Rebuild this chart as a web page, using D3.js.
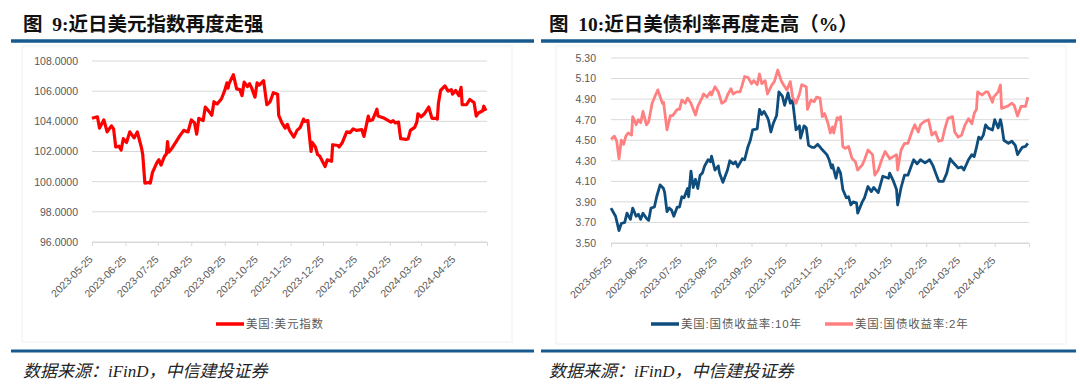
<!DOCTYPE html>
<html>
<head>
<meta charset="utf-8">
<script src="https://cdn.jsdelivr.net/npm/d3@7"></script>
<style>
  body { margin: 0; background: #ffffff; }
  svg { display: block; }
</style>
</head>
<body>
<svg id="chart" width="1080" height="384"></svg>
<script>
// ---- data ----
var xTickLabels = ["2023-05-25", "2023-06-25", "2023-07-25", "2023-08-25", "2023-09-25", "2023-10-25",
                   "2023-11-25", "2023-12-25", "2024-01-25", "2024-02-25", "2024-03-25", "2024-04-25"];
var xAxisEnd = "2024-05-25";

var dxyTicks = [96, 98, 100, 102, 104, 106, 108];
var rateTicks = [3.5, 3.7, 3.9, 4.1, 4.3, 4.5, 4.7, 4.9, 5.1, 5.3];

var dxyDates = ["2023-05-25","2023-05-30","2023-06-01","2023-06-05","2023-06-08","2023-06-12","2023-06-14","2023-06-16",
  "2023-06-19","2023-06-21","2023-06-23","2023-06-26","2023-06-29","2023-07-03","2023-07-06","2023-07-10","2023-07-11",
  "2023-07-13","2023-07-17","2023-07-18","2023-07-20","2023-07-24","2023-07-26","2023-07-28","2023-07-31","2023-08-02",
  "2023-08-03","2023-08-04","2023-08-07","2023-08-11","2023-08-14","2023-08-18","2023-08-22","2023-08-25","2023-08-28",
  "2023-08-30","2023-09-01","2023-09-05","2023-09-07","2023-09-11","2023-09-13","2023-09-15","2023-09-18","2023-09-22",
  "2023-09-25","2023-09-27","2023-09-28","2023-09-29","2023-10-03","2023-10-06","2023-10-09","2023-10-11","2023-10-13",
  "2023-10-16","2023-10-18","2023-10-20","2023-10-23","2023-10-25","2023-10-27","2023-10-31","2023-11-03","2023-11-06",
  "2023-11-09","2023-11-13","2023-11-14","2023-11-17","2023-11-20","2023-11-22","2023-11-24","2023-11-28","2023-12-01",
  "2023-12-04","2023-12-07","2023-12-08","2023-12-11","2023-12-13","2023-12-14","2023-12-15","2023-12-18","2023-12-20",
  "2023-12-22","2023-12-27","2023-12-29","2024-01-02","2024-01-03","2024-01-08","2024-01-09","2024-01-12","2024-01-16",
  "2024-01-19","2024-01-22","2024-01-25","2024-01-30","2024-02-01","2024-02-05","2024-02-06","2024-02-09","2024-02-13",
  "2024-02-14","2024-02-16","2024-02-20","2024-02-26","2024-02-28","2024-03-01","2024-03-04","2024-03-06","2024-03-11",
  "2024-03-13","2024-03-15","2024-03-19","2024-03-21","2024-03-22","2024-03-25","2024-03-28","2024-04-01","2024-04-04",
  "2024-04-08","2024-04-09","2024-04-10","2024-04-12","2024-04-16","2024-04-19","2024-04-22","2024-04-23","2024-04-26",
  "2024-04-29","2024-05-01","2024-05-02","2024-05-06","2024-05-09","2024-05-13","2024-05-15","2024-05-17","2024-05-21",
  "2024-05-22","2024-05-24"];
var dxyValues = [104.2,104.3,103.55,104.1,103.3,103.7,103.5,102.3,
  102.35,102.1,102.85,102.6,103.3,102.9,103.3,102.2,101.8,
  99.9,99.95,99.9,100.6,101.25,101.45,101.1,101.65,101.85,
  102.65,101.95,102.2,102.65,103.0,103.4,103.3,104.1,103.9,
  103.15,104.2,104.05,104.95,104.6,104.4,105.3,105.15,105.5,
  106.05,106.55,106.2,106.5,107.1,106.15,106.1,105.7,106.6,
  106.3,106.5,106.2,105.6,106.55,106.4,106.7,105.1,105.3,
  105.9,105.8,104.4,103.9,103.55,103.8,103.4,102.95,103.4,
  103.6,104.15,104.0,104.05,102.65,102.0,102.6,102.3,101.8,
  101.7,101.0,101.45,101.35,102.45,102.4,102.3,102.6,103.3,
  103.25,103.5,103.4,103.45,103.0,104.35,104.05,104.1,104.8,
  104.35,104.3,104.2,103.95,104.05,103.9,103.95,102.85,102.8,
  102.85,103.4,103.6,103.95,104.5,104.3,104.5,104.95,104.2,
  104.2,104.15,105.2,106.05,106.35,106.0,106.1,105.8,106.05,
  105.7,106.25,105.1,105.1,105.45,105.25,104.35,104.55,104.7,
  105.0,104.7];

var us10Dates = ["2023-05-25","2023-05-29","2023-06-01","2023-06-03","2023-06-06","2023-06-08","2023-06-11","2023-06-13",
  "2023-06-16","2023-06-18","2023-06-20","2023-06-22","2023-06-25","2023-06-27","2023-06-29","2023-07-02","2023-07-04",
  "2023-07-07","2023-07-10","2023-07-11","2023-07-13","2023-07-15","2023-07-17","2023-07-19","2023-07-22","2023-07-24",
  "2023-07-26","2023-07-28","2023-07-31","2023-08-01","2023-08-03","2023-08-05","2023-08-07","2023-08-09","2023-08-11",
  "2023-08-13","2023-08-15","2023-08-18","2023-08-20","2023-08-21","2023-08-24","2023-08-27","2023-08-28","2023-08-31",
  "2023-09-04","2023-09-06","2023-09-09","2023-09-11","2023-09-13","2023-09-17","2023-09-19","2023-09-22","2023-09-24",
  "2023-09-26","2023-09-30","2023-10-02","2023-10-04","2023-10-06","2023-10-09","2023-10-10","2023-10-12","2023-10-14",
  "2023-10-17","2023-10-19","2023-10-22","2023-10-24","2023-10-27","2023-10-29","2023-10-31","2023-11-03","2023-11-06",
  "2023-11-07","2023-11-10","2023-11-12","2023-11-14","2023-11-17","2023-11-19","2023-11-22","2023-11-25","2023-11-30",
  "2023-12-02","2023-12-04","2023-12-05","2023-12-08","2023-12-10","2023-12-12","2023-12-14","2023-12-17","2023-12-19",
  "2023-12-21","2023-12-23","2023-12-26","2023-12-27","2023-12-31","2024-01-02","2024-01-05","2024-01-08","2024-01-10",
  "2024-01-14","2024-01-18","2024-01-23","2024-01-24","2024-01-27","2024-01-30","2024-01-31","2024-02-03","2024-02-06",
  "2024-02-09","2024-02-13","2024-02-14","2024-02-17","2024-02-20","2024-02-24","2024-02-28","2024-03-02","2024-03-05",
  "2024-03-07","2024-03-11","2024-03-14","2024-03-17","2024-03-19","2024-03-24","2024-03-27","2024-03-29","2024-04-02",
  "2024-04-05","2024-04-07","2024-04-09","2024-04-11","2024-04-13","2024-04-15","2024-04-17","2024-04-19","2024-04-23",
  "2024-04-25","2024-04-28","2024-04-30","2024-05-01","2024-05-03","2024-05-07","2024-05-10","2024-05-13","2024-05-15",
  "2024-05-19","2024-05-22","2024-05-24"];
var us10Values = [3.84,3.76,3.62,3.69,3.70,3.79,3.73,3.84,
  3.76,3.78,3.73,3.79,3.74,3.72,3.84,3.85,3.95,
  4.065,4.03,3.99,3.805,3.84,3.82,3.76,3.85,3.85,
  3.95,3.94,4.03,3.95,4.20,4.04,4.12,4.03,4.16,
  4.18,4.25,4.31,4.29,4.345,4.21,4.25,4.18,4.09,
  4.21,4.30,4.27,4.29,4.24,4.32,4.31,4.44,4.50,
  4.60,4.61,4.80,4.75,4.78,4.72,4.69,4.58,4.66,
  4.74,4.97,4.93,4.84,4.96,4.86,4.89,4.60,4.64,
  4.52,4.64,4.62,4.45,4.43,4.43,4.46,4.42,4.36,
  4.31,4.23,4.26,4.13,4.23,4.18,4.02,3.94,3.95,
  3.87,3.90,3.89,3.79,3.90,3.94,4.05,4.00,4.04,
  3.99,4.15,4.13,4.18,4.11,4.02,3.87,4.04,4.16,
  4.16,4.28,4.31,4.27,4.31,4.28,4.31,4.25,4.16,
  4.10,4.10,4.18,4.32,4.29,4.23,4.24,4.21,4.31,
  4.36,4.34,4.43,4.53,4.51,4.55,4.65,4.62,4.60,
  4.70,4.62,4.70,4.65,4.50,4.47,4.49,4.45,4.36,
  4.43,4.44,4.47];

var us2Dates = ["2023-05-25","2023-05-28","2023-05-30","2023-06-01","2023-06-03","2023-06-05","2023-06-07","2023-06-09",
  "2023-06-12","2023-06-13","2023-06-16","2023-06-18","2023-06-20","2023-06-22","2023-06-25","2023-06-27","2023-06-30",
  "2023-07-03","2023-07-05","2023-07-09","2023-07-10","2023-07-13","2023-07-16","2023-07-18","2023-07-22","2023-07-24",
  "2023-07-26","2023-07-29","2023-07-31","2023-08-03","2023-08-07","2023-08-09","2023-08-13","2023-08-14","2023-08-17",
  "2023-08-20","2023-08-21","2023-08-24","2023-08-27","2023-08-30","2023-09-02","2023-09-04","2023-09-07","2023-09-09",
  "2023-09-12","2023-09-15","2023-09-17","2023-09-19","2023-09-22","2023-09-25","2023-09-27","2023-09-30","2023-10-02",
  "2023-10-04","2023-10-07","2023-10-09","2023-10-13","2023-10-15","2023-10-18","2023-10-21","2023-10-23","2023-10-26",
  "2023-10-29","2023-10-31","2023-11-03","2023-11-06","2023-11-08","2023-11-12","2023-11-13","2023-11-16","2023-11-19",
  "2023-11-21","2023-11-24","2023-11-26","2023-11-28","2023-12-01","2023-12-03","2023-12-05","2023-12-06","2023-12-09",
  "2023-12-11","2023-12-12","2023-12-14","2023-12-16","2023-12-19","2023-12-22","2023-12-25","2023-12-27","2023-12-31",
  "2024-01-02","2024-01-05","2024-01-09","2024-01-11","2024-01-14","2024-01-17","2024-01-20","2024-01-23","2024-01-24",
  "2024-01-27","2024-01-30","2024-01-31","2024-02-03","2024-02-06","2024-02-09","2024-02-13","2024-02-15","2024-02-18",
  "2024-02-20","2024-02-23","2024-02-27","2024-03-01","2024-03-04","2024-03-07","2024-03-10","2024-03-12","2024-03-15",
  "2024-03-19","2024-03-21","2024-03-24","2024-03-27","2024-03-30","2024-04-02","2024-04-05","2024-04-07","2024-04-09",
  "2024-04-10","2024-04-14","2024-04-17","2024-04-19","2024-04-23","2024-04-24","2024-04-28","2024-04-30","2024-05-01",
  "2024-05-06","2024-05-10","2024-05-12","2024-05-15","2024-05-18","2024-05-22","2024-05-24"];
var us2Values = [4.51,4.54,4.49,4.32,4.50,4.46,4.54,4.57,
  4.55,4.73,4.65,4.70,4.67,4.78,4.65,4.68,4.86,
  4.94,4.99,4.86,4.87,4.60,4.74,4.74,4.80,4.80,
  4.89,4.86,4.91,4.86,4.745,4.83,4.92,4.95,4.92,
  4.97,4.94,5.02,4.97,4.86,4.88,4.94,5.00,4.95,
  4.97,4.97,5.04,5.12,5.11,5.05,5.08,5.04,5.144,
  5.05,5.08,4.95,5.04,5.07,5.183,5.08,5.04,4.99,
  5.07,4.92,4.86,4.95,5.04,5.02,4.80,4.89,4.875,
  4.92,4.91,4.73,4.76,4.665,4.57,4.63,4.57,4.72,
  4.70,4.73,4.437,4.42,4.44,4.324,4.29,4.21,4.26,
  4.31,4.405,4.36,4.16,4.21,4.31,4.39,4.34,4.32,
  4.34,4.36,4.21,4.405,4.47,4.47,4.60,4.65,4.58,
  4.65,4.68,4.70,4.55,4.58,4.49,4.50,4.60,4.713,
  4.73,4.58,4.53,4.55,4.65,4.71,4.66,4.76,4.80,
  4.97,4.94,4.97,4.97,4.87,4.92,4.97,5.037,4.81,
  4.83,4.86,4.84,4.736,4.83,4.83,4.92];

// ---- drawing ----
var parseDate = d3.timeParse("%Y-%m-%d");
var svg = d3.select("#chart");

var latinCjk = "'Liberation Serif', 'Noto Sans CJK SC', serif";
var labelFont = "'Liberation Sans', 'Noto Sans CJK SC', sans-serif";
var ruleColor = "#185a8d";
var gridColor = "#d9d9d9";
var textGray = "#595959";

function makeSeries(dates, values){
	return dates.map(function(d, i){
		return {date: parseDate(d), value: values[i]};
	});
}

function drawPanel(opt){
	var g = svg.append("g");

	// faint chart frame
	g.append("rect")
		.attr("x", opt.frame[0]).attr("y", opt.frame[1])
		.attr("width", opt.frame[2]).attr("height", opt.frame[3])
		.attr("fill", "none").attr("stroke", "#f0f0f0");

	// title + rules
	g.append("text")
		.attr("x", opt.titleX).attr("y", 31)
		.attr("font-family", latinCjk).attr("font-weight", "bold")
		.attr("font-size", "19.5px").attr("fill", "#111")
		.text(opt.title);
	g.append("line")
		.attr("x1", opt.rule[0]).attr("x2", opt.rule[1])
		.attr("y1", 41).attr("y2", 41)
		.attr("stroke", ruleColor).attr("stroke-width", 3.5);
	g.append("line")
		.attr("x1", opt.rule[0]).attr("x2", opt.rule[1])
		.attr("y1", 351).attr("y2", 351)
		.attr("stroke", ruleColor).attr("stroke-width", 3);
	g.append("text")
		.attr("x", opt.titleX).attr("y", 377)
		.attr("font-family", latinCjk).attr("font-style", "italic")
		.attr("font-size", "17px").attr("fill", "#222")
		.text("数据来源：iFinD，中信建投证券");

	var x = d3.scaleTime()
		.domain([parseDate(xTickLabels[0]), parseDate(xAxisEnd)])
		.range(opt.xRange);
	var y = d3.scaleLinear()
		.domain([opt.yTicks[0], opt.yTicks[opt.yTicks.length - 1]])
		.range(opt.yRange);

	// gridlines
	g.selectAll(".grid")
		.data(opt.yTicks)
		.enter()
		.append("line")
		.attr("x1", opt.xRange[0]).attr("x2", opt.xRange[1])
		.attr("y1", function(d){ return y(d); })
		.attr("y2", function(d){ return y(d); })
		.attr("stroke", gridColor).attr("stroke-width", 1);

	// y axis labels
	var yAxis = d3.axisLeft(y)
		.tickValues(opt.yTicks)
		.tickFormat(d3.format(opt.yFormat))
		.tickSize(0)
		.tickPadding(opt.xRange[0] - opt.yLabelRight);
	var yg = g.append("g")
		.attr("transform", "translate(" + opt.xRange[0] + ",0)")
		.call(yAxis);
	yg.select(".domain").remove();
	yg.selectAll("text")
		.attr("font-family", labelFont).attr("font-size", "10.5px").attr("fill", textGray);

	// x axis
	var tickDates = xTickLabels.map(parseDate).concat([parseDate(xAxisEnd)]);
	var xAxis = d3.axisBottom(x)
		.tickValues(tickDates)
		.tickSize(4)
		.tickSizeOuter(0)
		.tickFormat(function(d, i){ return i < xTickLabels.length ? xTickLabels[i] : ""; });
	var xg = g.append("g")
		.attr("transform", "translate(0," + opt.yRange[0] + ")")
		.call(xAxis);
	xg.select(".domain").attr("stroke", gridColor);
	xg.selectAll(".tick line").attr("stroke", gridColor);
	xg.selectAll("text")
		.attr("x", 0).attr("y", 0).attr("dy", 0)
		.attr("transform", "translate(1,18) rotate(-45)")
		.style("text-anchor", "end")
		.attr("font-family", labelFont).attr("font-size", "10.5px").attr("fill", textGray);

	// lines
	var line = d3.line()
		.x(function(d){ return x(d.date); })
		.y(function(d){ return y(d.value); });
	opt.series.forEach(function(s){
		g.append("path")
			.datum(s.data)
			.attr("d", line)
			.attr("fill", "none")
			.attr("stroke", s.color)
			.attr("stroke-width", s.width)
			.attr("stroke-linejoin", "round");
	});

	// legend
	opt.series.forEach(function(s){
		g.append("line")
			.attr("x1", s.legendX).attr("x2", s.legendX + 28)
			.attr("y1", 324).attr("y2", 324)
			.attr("stroke", s.color).attr("stroke-width", 3.5);
		g.append("text")
			.attr("x", s.legendX + 30).attr("y", 324)
			.attr("dy", "0.35em")
			.attr("font-family", labelFont).attr("font-size", "11.5px")
			.attr("letter-spacing", "0.8px").attr("fill", textGray)
			.text(s.name);
	});
}

drawPanel({
	title: "图\u00a0\u00a09:近日美元指数再度走强",
	titleX: 23,
	rule: [11, 534],
	frame: [22, 46, 490, 296],
	xRange: [92, 487],
	yRange: [242, 61],
	yTicks: dxyTicks,
	yFormat: ".4f",
	yLabelRight: 78,
	series: [
		{name: "美国:美元指数", data: makeSeries(dxyDates, dxyValues), color: "#ff0000", width: 3.2, legendX: 216}
	]
});

drawPanel({
	title: "图\u00a0\u00a010:近日美债利率再度走高（%）",
	titleX: 549,
	rule: [541, 1076],
	frame: [556, 46, 510, 298],
	xRange: [611, 1029],
	yRange: [243, 58],
	yTicks: rateTicks,
	yFormat: ".2f",
	yLabelRight: 596,
	series: [
		{name: "美国:国债收益率:10年", data: makeSeries(us10Dates, us10Values), color: "#0e4d7c", width: 2.8, legendX: 651},
		{name: "美国:国债收益率:2年", data: makeSeries(us2Dates, us2Values), color: "#ff8080", width: 2.8, legendX: 825}
	]
});
</script>
</body>
</html>
